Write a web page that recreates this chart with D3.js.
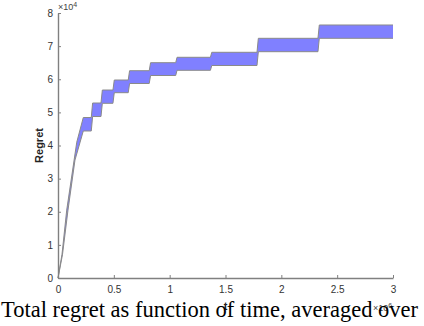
<!DOCTYPE html>
<html>
<head>
<meta charset="utf-8">
<script src="https://cdn.jsdelivr.net/npm/d3@7"></script>
<style>
  body { margin: 0; background: #fff; }
  svg { display: block; }
</style>
</head>
<body>
<div id="chart"></div>
<script>
// values in units of 1e4 (regret) and 1e6 (t), as on the axes
const rampUpperT = [0, 0.036, 0.078, 0.168];
const rampUpperV = [0, 0.72, 2.05, 4.1];
const rampLowerT = [0, 0.04, 0.0895, 0.152];
const rampLowerV = [0, 0.7, 2.05, 3.56];

const stepStart = [0.2265, 0.298, 0.385, 0.492, 0.629, 0.817, 1.054, 1.365, 1.782, 2.328];
const stepUpper = [4.845, 5.283, 5.675, 5.977, 6.258, 6.50, 6.663, 6.814, 7.236, 7.638];
const stepLower = [4.438, 4.875, 5.274, 5.594, 5.872, 6.113, 6.27, 6.415, 6.832, 7.236];
const tEnd = 3.0;

const xTicks = [0, 0.5, 1, 1.5, 2, 2.5, 3];
const yTicks = [0, 1, 2, 3, 4, 5, 6, 7, 8];

const svgWidth = 424;
const svgHeight = 326;
const plotLeft = 58, plotRight = 393, plotTop = 13, plotBottom = 278;
const font = '"Liberation Sans", Arial, Helvetica, sans-serif';

const svg = d3.select('#chart')
    .append('svg')
    .attr('width', svgWidth)
    .attr('height', svgHeight);

const xScale = d3.scaleLinear().domain([0, 3]).range([plotLeft, plotRight]);
const yScale = d3.scaleLinear().domain([0, 8]).range([plotBottom, plotTop]);

// build upper / lower edges of the band
const buildEdge = (rt, rv, vals) => {
    const pts = rt.map((t, i) => [t, rv[i]]);
    const dt = 0.012;
    stepStart.forEach((t, i) => {
        if (i > 0) pts.push([t, vals[i - 1]]);
        pts.push([i > 0 ? t + dt : t, vals[i]]);
    });
    pts.push([tEnd, vals[vals.length - 1]]);
    return pts;
};
const upperEdge = buildEdge(rampUpperT, rampUpperV, stepUpper);
const lowerEdge = buildEdge(rampLowerT, rampLowerV, stepLower);

const line = d3.line()
    .x(d => xScale(d[0]))
    .y(d => yScale(d[1]));

// shaded band
svg.append('path')
    .attr('d', line(upperEdge.concat(lowerEdge.slice().reverse())) + 'Z')
    .style('fill', '#8080ff')
    .style('stroke', 'none');

[upperEdge, lowerEdge].forEach(edge => {
    svg.append('path')
        .attr('d', line(edge))
        .style('fill', 'none')
        .style('stroke', '#8a8a8a')
        .style('stroke-width', 1);
});

// axes (MATLAB style, ticks inward)
const xAxis = svg.append('g')
    .attr('transform', `translate(0, ${plotBottom})`)
    .call(d3.axisBottom(xScale).tickValues(xTicks).tickSizeInner(-3).tickSizeOuter(0).tickPadding(8)
        .tickFormat(d3.format('')));

const yAxis = svg.append('g')
    .attr('transform', `translate(${plotLeft}, 0)`)
    .call(d3.axisLeft(yScale).tickValues(yTicks).tickSizeInner(-3).tickSizeOuter(0).tickPadding(5));

[xAxis, yAxis].forEach(g => {
    g.select('.domain').attr('stroke', '#808080').attr('stroke-width', 1.4);
    g.selectAll('.tick line').attr('stroke', '#808080').attr('stroke-width', 1);
    g.selectAll('.tick text')
        .style('font-family', font)
        .style('font-size', '10px')
        .attr('fill', '#333');
});

// exponent labels
const expo = (x, y, p) => {
    const t = svg.append('text')
        .attr('x', x).attr('y', y)
        .style('font-family', font)
        .style('font-size', '9px')
        .attr('fill', '#444');
    t.append('tspan').text('\u00d710');
    t.append('tspan').attr('dy', -3).style('font-size', '7px').text(p);
};
expo(58, 10, '4');
expo(373, 311, '6');

// axis titles
svg.append('text')
    .attr('transform', `translate(43, ${(plotTop + plotBottom) / 2}) rotate(-90)`)
    .attr('text-anchor', 'middle')
    .style('font-family', font)
    .style('font-size', '11px')
    .style('font-weight', 'bold')
    .attr('fill', '#222')
    .text('Regret');

svg.append('text')
    .attr('x', (plotLeft + plotRight) / 2)
    .attr('y', 310)
    .attr('text-anchor', 'middle')
    .style('font-family', font)
    .style('font-size', '11px')
    .style('font-weight', 'bold')
    .attr('fill', '#222')
    .text('t');

// caption (cropped figure caption)
svg.append('text')
    .attr('x', 1)
    .attr('y', 317)
    .style('font-family', '"Liberation Serif", "Times New Roman", serif')
    .style('font-size', '22.5px')
    .attr('fill', '#000')
    .text('Total regret as function of time, averaged over');
</script>
</body>
</html>
